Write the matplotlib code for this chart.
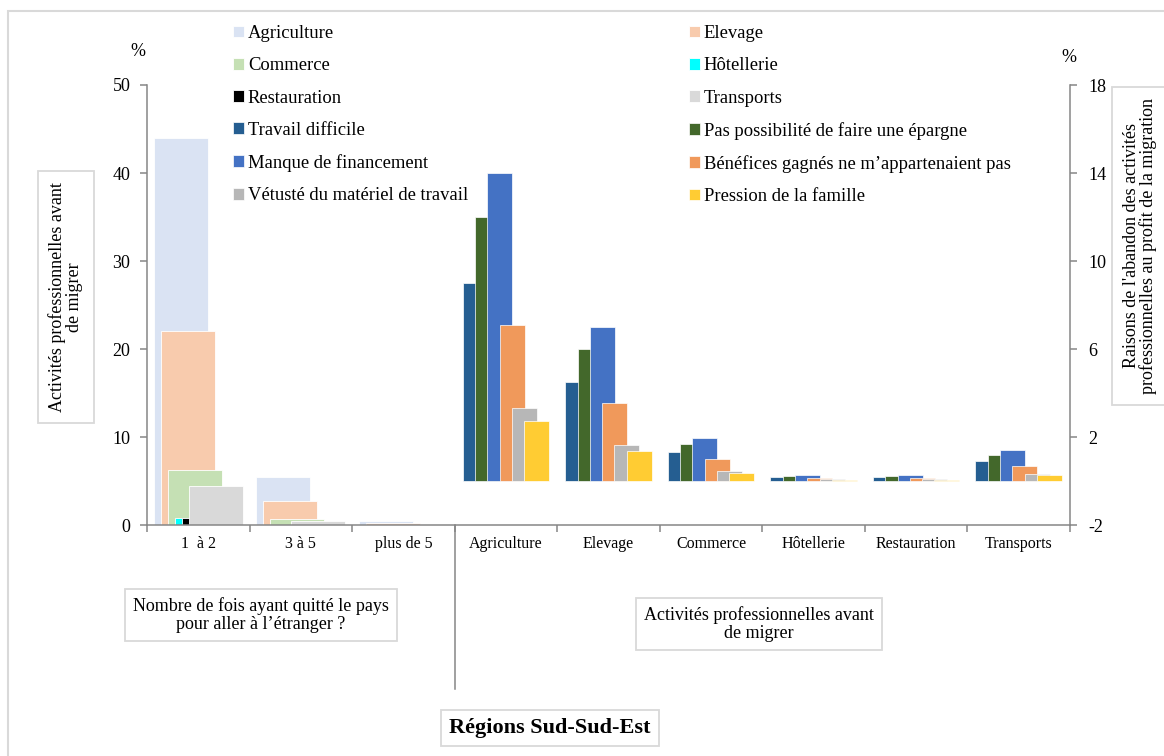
import numpy as np
import matplotlib
matplotlib.use("Agg")
import matplotlib.pyplot as plt
from matplotlib.patches import Rectangle

plt.rcParams['font.family'] = ['Liberation Serif', 'DejaVu Serif']
plt.rcParams['axes.unicode_minus'] = False

# Left block: number of departures abroad, by previous activity (%)
trips = ["1  à 2", "3 à 5", "plus de 5"]
activities = ["Agriculture", "Elevage", "Commerce", "Hôtellerie", "Restauration", "Transports"]
agriculture = [44.0, 5.4, 0.4]
elevage = [22.0, 2.7, 0.2]
commerce = [6.2, 0.7, 0.0]
hotellerie = [0.8, 0.0, 0.0]
restauration = [0.8, 0.0, 0.0]
transports = [4.4, 0.5, 0.0]
activity_colors = ["#dae3f3", "#f8cbad", "#c5e0b4", "#00ffff", "#000000", "#d9d9d9"]

# Right block: reasons for leaving the activity (%)
reasons = ["Travail difficile", "Pas possibilité de faire une épargne",
           "Manque de financement", "Bénéfices gagnés ne m\u2019appartenaient pas",
           "Vétusté du matériel de travail", "Pression de la famille"]
travail = [9.0, 4.5, 1.3, 0.17, 0.17, 0.9]
epargne = [12.0, 6.0, 1.7, 0.23, 0.23, 1.2]
financement = [14.0, 7.0, 1.95, 0.27, 0.27, 1.4]
benefices = [7.1, 3.55, 1.0, 0.14, 0.14, 0.7]
vetuste = [3.3, 1.65, 0.45, 0.08, 0.08, 0.32]
pression = [2.75, 1.35, 0.37, 0.05, 0.05, 0.26]
reason_colors = ["#255e91", "#43682b", "#4472c4", "#f0995b", "#b7b7b7", "#ffcc33"]

categories = trips + activities
left_series = [agriculture, elevage, commerce, hotellerie, restauration, transports]
right_series = [travail, epargne, financement, benefices, vetuste, pression]

W, H = 1164, 756
fig = plt.figure(figsize=(W / 100, H / 100), dpi=100)
ax = fig.add_axes([147 / W, 1 - 525 / H, (1070 - 147) / W, 440 / H])
ax2 = ax.twinx()

grey = "#868686"

# overlapping bars, Excel style
lw_bar, lstep = 0.527, 0.068
lspan = lstep * 5 + lw_bar
li = np.arange(len(trips))
left_handles = []
for j, vals in enumerate(left_series):
    x = li + 0.5 - lspan / 2 + j * lstep
    b = ax.bar(x, vals, width=lw_bar, align='edge', color=activity_colors[j],
               edgecolor='white', linewidth=0.6, label=activities[j])
    left_handles.append(b)

rw_bar, rstep = 0.244, 0.12
rspan = rstep * 5 + rw_bar
ri = np.arange(len(activities)) + len(trips)
right_handles = []
for j, vals in enumerate(right_series):
    x = ri + 0.5 - rspan / 2 + j * rstep
    b = ax2.bar(x, vals, width=rw_bar, align='edge', color=reason_colors[j],
                edgecolor='white', linewidth=0.5, label=reasons[j])
    right_handles.append(b)

ax.set_xlim(0, len(categories))
ax.set_ylim(0, 50)
ax2.set_ylim(-2, 18)
ax.set_yticks(np.arange(0, 51, 10))
ax2.set_yticks(np.arange(-2, 19, 4))

ax.set_xticks(np.arange(len(categories) + 1))
ax.set_xticklabels([])
ax.set_xticks(np.arange(len(categories)) + 0.5, minor=True)
ax.set_xticklabels(categories, minor=True, fontsize=11.5)
ax.tick_params(axis='x', which='major', direction='out', length=5, width=1.1, color=grey)
ax.tick_params(axis='x', which='minor', length=0, pad=8)
ax.tick_params(axis='y', direction='out', length=5, width=1.1, color=grey, labelsize=13, pad=7)
ax2.tick_params(axis='y', direction='out', length=5, width=1.1, color=grey, labelsize=13, pad=8)

for a in (ax, ax2):
    for s in a.spines.values():
        s.set_color(grey)
        s.set_linewidth(1.1)
    a.spines['top'].set_visible(False)
ax.spines['right'].set_visible(False)
ax2.spines['left'].set_visible(False)
ax2.spines['bottom'].set_visible(False)

# separator between the two blocks
ax.plot([3, 3], [0, -164 / 440], transform=ax.get_xaxis_transform(),
        color=grey, lw=1.1, clip_on=False)

# legend in two columns, filled row by row
h = left_handles + right_handles
lab = activities + reasons
col1 = [0, 2, 4, 6, 8, 10]
col2 = [1, 3, 5, 7, 9, 11]
for cols, x0 in ((col1, 233), (col2, 689)):
    fig.legend([h[i] for i in cols], [lab[i] for i in cols], loc='upper left',
               bbox_to_anchor=(x0 / W, 1 - 25 / H), frameon=False, fontsize=13.4,
               handlelength=0.6, handleheight=0.6, handletextpad=0.2,
               labelspacing=0.82, borderpad=0, borderaxespad=0)

# outer frame
fig.patches.append(Rectangle((8 / W, -0.05), 1.1, 1 - 11 / H + 0.05, transform=fig.transFigure,
                             fill=False, edgecolor='#d9d9d9', linewidth=1.5))

fig.text(138 / W, 1 - 51 / H, "%", ha='center', va='center', fontsize=13)
fig.text(1069 / W, 1 - 58 / H, "%", ha='center', va='center', fontsize=13)

box = dict(boxstyle='square,pad=0.45', fc='white', ec='#d9d9d9', lw=1.3)
fig.text(66 / W, 1 - 297 / H, "Activités professionnelles avant\nde migrer",
         rotation=90, ha='center', va='center', fontsize=13, linespacing=1.0,
         multialignment='center', bbox=dict(boxstyle='square,pad=0.6', fc='white', ec='#d9d9d9', lw=1.3))
fig.text(1140 / W, 1 - 246 / H,
         "Raisons de l'abandon des activités\nprofessionnelles au profit de la migration",
         rotation=90, ha='center', va='center', fontsize=13, linespacing=1.0,
         multialignment='center', bbox=dict(boxstyle='square,pad=0.6', fc='white', ec='#d9d9d9', lw=1.3))
fig.text(261 / W, 1 - 615 / H, "Nombre de fois ayant quitté le pays\npour aller à l\u2019étranger ?",
         ha='center', va='center', fontsize=13, linespacing=1.1, multialignment='center', bbox=box)
fig.text(759 / W, 1 - 624 / H, "Activités professionnelles avant\nde migrer",
         ha='center', va='center', fontsize=13, linespacing=1.1, multialignment='center', bbox=box)
fig.text(550 / W, 1 - 728 / H, "Régions Sud-Sud-Est", ha='center', va='center',
         fontsize=16, fontweight='bold',
         bbox=dict(boxstyle='square,pad=0.35', fc='white', ec='#d9d9d9', lw=1.3))

fig.savefig("out.png", dpi=100)
